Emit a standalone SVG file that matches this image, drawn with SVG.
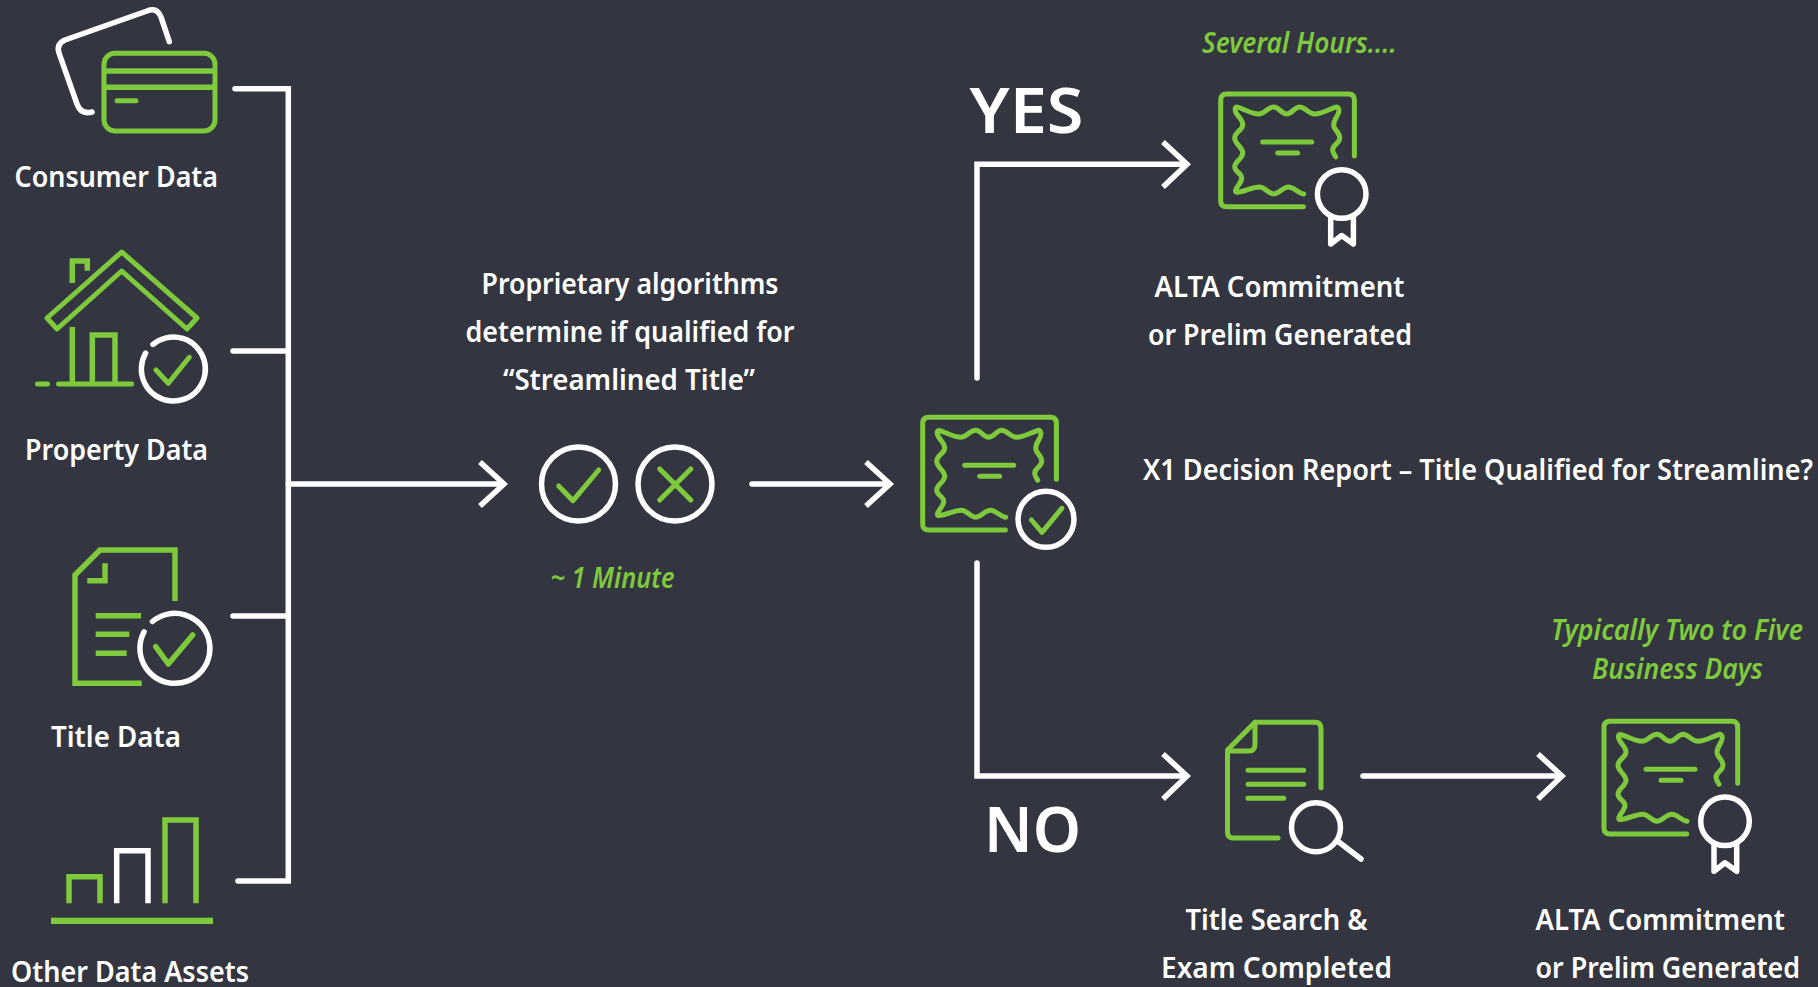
<svg xmlns="http://www.w3.org/2000/svg" width="1818" height="987" viewBox="0 0 1818 987">
<style>
.g{fill:none;stroke:#7fc93c;stroke-width:5;stroke-linecap:round;stroke-linejoin:round}
.gb{fill:none;stroke:#7fc93c;stroke-width:5.5;stroke-linecap:butt;stroke-linejoin:miter}
.w{fill:none;stroke:#fff;stroke-width:5.5;stroke-linecap:round;stroke-linejoin:round}
.wb{fill:none;stroke:#fff;stroke-width:5.5;stroke-linecap:butt;stroke-linejoin:miter}
.c{fill:none;stroke:#fff;stroke-width:5.5;stroke-linecap:round;stroke-linejoin:miter}
.h{fill:none;stroke:#fff;stroke-width:5.5;stroke-linecap:butt;stroke-linejoin:miter}
text{font-family:"Noto Sans","Open Sans","Liberation Sans",sans-serif;font-weight:600;font-size:28px;fill:#fff}
.big{font-size:63px;font-weight:600}
.t{fill:#7fc93c;font-style:italic;font-size:28.5px}
</style>
<defs>
<g id="cert">
<path class="g" d="M133.7,62V6Q133.7,0 128,0H6Q0,0 0,6V107Q0,112.7 6,112.7H82.7"/>
<path class="g" d="M115,63C114,61 112,59 112,56C112,50 119,50 119,44C119,38 113,36 113,31C113,24 120,20 118,15Q117,12 114,13.500C107,16 100,20 94,20C88,20 84,13 79,13C74,13 71,20 66,20C61,20 58,13 53,13C47,13 44,20 38,20C32,20 25,16 18,13.500Q14,12 14.500,16C15,22 22,24 22,31C22,36 14,38 14,44C14,50 22,53 22,59C22,65 14,67 14,73C14,78 21,79 21,84C21,89 16,92 15,96Q14,99 18,98C25,97 32,93 39,93C44,93 48,100 53,100C58,100 62,93 68,93C73,93 77,99 83,100"/>
<path class="g" d="M42,48H91M57,59H77"/>
</g>
<g id="seal">
<circle class="w" cx="121" cy="100" r="24.3"/>
<path class="w" d="M110,124V150L121,141.500L132.7,150V124"/>
</g>
</defs>
<rect width="1818" height="987" fill="#333640"/>
<g id="connectors">
<path class="c" d="M235,88.7H288.3V881H238"/>
<path class="c" d="M233,351H288M233,616H288M288.3,484H502"/>
<path class="h" d="M480,462L504,484L480,506"/>
<path class="c" d="M752,484H888"/>
<path class="h" d="M866,462L890,484L866,506"/>
<path class="c" d="M977,378V164.300H1185"/>
<path class="h" d="M1163,142L1187,164.300L1163,187"/>
<path class="c" d="M977,563V776H1185"/>
<path class="h" d="M1163,754L1187,776L1163,799"/>
<path class="c" d="M1363,776H1560"/>
<path class="h" d="M1538,754L1562,776L1538,799"/>
</g>
<g id="consumer-data">
<path class="w" d="M169.3,41.7L161,17Q157,7 147,11L65,40Q56,44 59,53L77,104Q81,115 92,112"/>
<rect class="g" x="104" y="53.3" width="111" height="77.7" rx="11"/>
<path class="gb" d="M104,71H215M104,87.3H215"/>
<path class="g" d="M117,100.7H136"/>
<text x="14.500" y="186.700" textLength="203.500" lengthAdjust="spacingAndGlyphs">Consumer Data</text>
</g>
<g id="property-data">
<path class="g" d="M121.700,252L197,318L187,329L121.700,271L57,329L47,318Z"/>
<path class="gb" d="M72.300,283V261H87.300V270.700M72.300,327V383M92.300,383V335H115V383"/>
<path class="g" d="M58.500,384H131.700M37.500,384H47.500"/>
<path class="w" d="M153,344.400A32,32 0 1 1 145.600,353.200"/>
<path class="g" d="M156,370L168.300,383.300L189.300,357.300"/>
<text x="25" y="460" textLength="183" lengthAdjust="spacingAndGlyphs">Property Data</text>
</g>
<g id="title-data">
<path class="gb" d="M175,601V550H100L75,575V683.300H141.700M105,563.300V580.700H87.300M95.700,615.700H141M95.700,634.300H129.300M95.700,653.300H126.700"/>
<path class="w" d="M152.500,621.500A35,35 0 1 1 144.100,631.800"/>
<path class="g" style="stroke-width:5.500" d="M155.700,646.700L168.300,664L192.700,635"/>
<text x="51" y="747" textLength="130" lengthAdjust="spacingAndGlyphs">Title Data</text>
</g>
<g id="other-data">
<path class="gb" d="M69,903.300V876.700H100V903.300M165,903.300V820H196V903.300"/>
<path class="wb" d="M116.700,903.300V850.700H148V903.300"/>
<rect x="51" y="917.700" width="162" height="6.300" fill="#7fc93c"/>
<text x="11" y="982" textLength="238" lengthAdjust="spacingAndGlyphs">Other Data Assets</text>
</g>
<g id="algorithms">
<text x="481.500" y="293.500" textLength="297" lengthAdjust="spacingAndGlyphs">Proprietary algorithms</text>
<text x="465.500" y="341.500" textLength="329" lengthAdjust="spacingAndGlyphs">determine if qualified for</text>
<text x="503" y="389.500" textLength="252" lengthAdjust="spacingAndGlyphs">“Streamlined Title”</text>
<circle class="w" cx="578.500" cy="484" r="37"/>
<path class="g" d="M558.700,486L573,500.700L598.700,470"/>
<circle class="w" cx="675" cy="484" r="37"/>
<path class="g" d="M659.700,469L690.800,500M690.800,469L659.700,500"/>
<text class="t" x="550.500" y="588.300" textLength="124" lengthAdjust="spacingAndGlyphs">~ 1 Minute</text>
</g>
<g id="decision-report">
<use href="#cert" x="922.700" y="417.300"/>
<circle class="w" cx="1046" cy="519.300" r="28"/>
<path class="g" d="M1031.500,520L1042,532.300L1061.800,508.300"/>
<text x="1143" y="479.500" textLength="670" lengthAdjust="spacingAndGlyphs">X1 Decision Report – Title Qualified for Streamline?</text>
</g>
<g id="yes-result">
<text class="big" x="969.500" y="132.700" textLength="114" lengthAdjust="spacingAndGlyphs">YES</text>
<text class="t" x="1202" y="52.700" textLength="194.700" lengthAdjust="spacingAndGlyphs">Several Hours....</text>
<use href="#cert" x="1220.700" y="94"/>
<use href="#seal" x="1220.700" y="94"/>
<text x="1154.500" y="296.700" textLength="250" lengthAdjust="spacingAndGlyphs">ALTA Commitment</text>
<text x="1148" y="344.500" textLength="264" lengthAdjust="spacingAndGlyphs">or Prelim Generated</text>
</g>
<g id="no-search">
<text class="big" x="984" y="852" textLength="97" lengthAdjust="spacingAndGlyphs">NO</text>
<path class="g" d="M1321,787.700V729Q1321,722.300 1315,722.300H1255L1227.500,750V832Q1227.500,838 1233,838H1278"/>
<path class="g" d="M1255,722.300V744Q1255,751 1249,751H1227.500"/>
<path class="g" d="M1248,770.300H1303.700M1248,784.300H1303.700M1248,798.300H1283.800"/>
<circle class="w" cx="1316" cy="827.300" r="24.500"/>
<path class="w" d="M1338.500,841.700L1361,859"/>
<text x="1185.500" y="930.200" textLength="182" lengthAdjust="spacingAndGlyphs">Title Search &amp;</text>
<text x="1161" y="978" textLength="231" lengthAdjust="spacingAndGlyphs">Exam Completed</text>
</g>
<g id="no-result">
<text class="t" x="1551" y="640" textLength="252" lengthAdjust="spacingAndGlyphs">Typically Two to Five</text>
<text class="t" x="1592" y="678.500" textLength="171" lengthAdjust="spacingAndGlyphs">Business Days</text>
<use href="#cert" x="1604" y="721.300"/>
<use href="#seal" x="1604" y="721.300"/>
<text x="1535.500" y="930.200" textLength="249.500" lengthAdjust="spacingAndGlyphs">ALTA Commitment</text>
<text x="1535.500" y="978" textLength="264.500" lengthAdjust="spacingAndGlyphs">or Prelim Generated</text>
</g>
</svg>
